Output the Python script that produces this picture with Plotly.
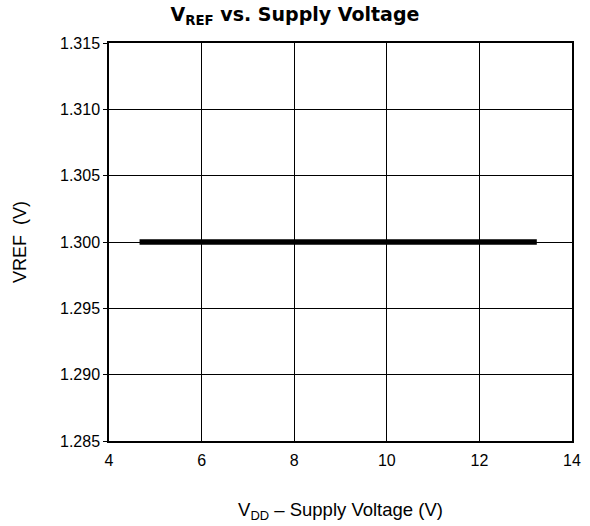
import plotly.graph_objects as go

supply_voltage = [4.66, 13.24]
vref = [1.300, 1.300]
x_ticks = [4, 6, 8, 10, 12, 14]
y_ticks = [1.285, 1.290, 1.295, 1.300, 1.305, 1.310, 1.315]
y_tick_labels = ["1.285", "1.290", "1.295", "1.300", "1.305", "1.310", "1.315"]

fig = go.Figure()
fig.add_trace(go.Scatter(x=supply_voltage, y=vref, mode="lines",
                         line=dict(color="black", width=5.5), showlegend=False))

font = "Liberation Sans, Arial, sans-serif"
fig.update_layout(
    width=590, height=526,
    margin=dict(l=109, r=9, t=43, b=78),
    paper_bgcolor="white", plot_bgcolor="white",
    font=dict(family=font, size=16, color="black"),
    title=dict(text="<b>V<sub>REF</sub> vs. Supply Voltage</b>",
               x=0.5, xanchor="center", y=0.985, yanchor="top",
               font=dict(family="DejaVu Sans, sans-serif", size=19, color="black")),
    xaxis=dict(range=[4, 14], tickvals=x_ticks, showgrid=True, gridcolor="black",
               gridwidth=1, showline=True, linecolor="black", linewidth=1.5,
               mirror=True, zeroline=False, ticks="", ticklabelstandoff=4,
               tickfont=dict(family=font, size=16, color="black"),
               title=dict(text="V<sub>DD</sub> – Supply Voltage (V)", standoff=35,
                          font=dict(family=font, size=18.5, color="black"))),
    yaxis=dict(range=[1.285, 1.315], tickvals=y_ticks, ticktext=y_tick_labels,
               showgrid=True, gridcolor="black", gridwidth=1, showline=True,
               linecolor="black", linewidth=1.5, mirror=True, zeroline=False,
               ticks="outside", ticklen=4, tickcolor="black",
               tickfont=dict(family=font, size=16, color="black"),
               title=dict(text="VREF  (V)", standoff=29,
                          font=dict(family=font, size=18, color="black"))),
)
fig.write_html("out.html", config={"displayModeBar": False},
               post_script="document.body.style.margin='0';")
